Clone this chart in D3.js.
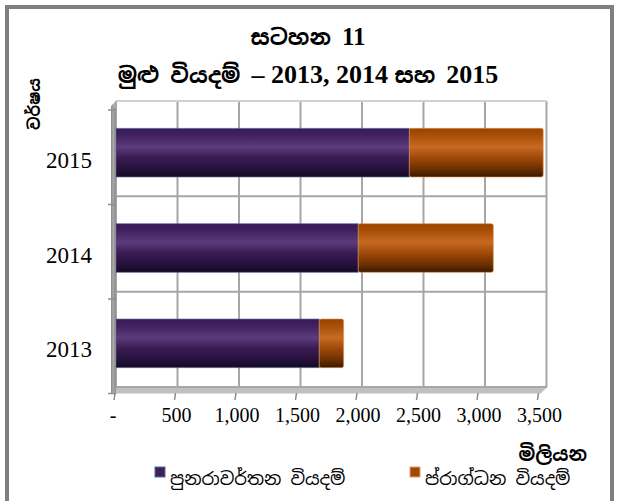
<!DOCTYPE html>
<html>
<head>
<meta charset="utf-8">
<script src="https://cdn.jsdelivr.net/npm/d3@7"></script>
<style>
  body { margin: 0; background: #fff; }
  svg { display: block; }
</style>
</head>
<body>
<div id="chart"></div>
<script>
// data (Rs. million)
const years = ['2015', '2014', '2013'];
const recurrent = [2410, 1990, 1670];   // පුනරාවර්තන වියදම්
const capital = [1100, 1110, 200];      // ප්රාග්ධන වියදම්
const xTicks = [0, 500, 1000, 1500, 2000, 2500, 3000, 3500];
const xTickLabels = ['-', '500', '1,000', '1,500', '2,000', '2,500', '3,000', '3,500'];
const seriesNames = ['පුනරාවර්තන වියදම්', 'ප්රාග්ධන වියදම්'];

const width = 617, height = 501;
const numFont = "'Liberation Serif', 'Times New Roman', Times, serif";
const sinFont = "'Noto Sans Sinhala', 'Noto Serif Sinhala', 'Iskoola Pota', sans-serif";

const svg = d3.select('#chart').append('svg')
    .attr('width', width)
    .attr('height', height);

const defs = svg.append('defs');

function barGradient(id, stops) {
  const g = defs.append('linearGradient')
      .attr('id', id)
      .attr('x1', 0).attr('y1', 0).attr('x2', 0).attr('y2', 1);
  stops.forEach(s => g.append('stop').attr('offset', s[0]).attr('stop-color', s[1]));
}
barGradient('gPurple', [[0, '#3a1a56'], [0.12, '#3f1f5c'], [0.38, '#5d3b7c'], [0.6, '#3a1c55'], [0.85, '#24103a'], [1, '#150a22']]);
barGradient('gOrange', [[0, '#9a4400'], [0.12, '#a64c05'], [0.38, '#c76a22'], [0.6, '#a04a0a'], [0.85, '#6a2e00'], [1, '#3a1800']]);

const wallGrad = defs.append('linearGradient')
    .attr('id', 'gWall').attr('x1', 0).attr('y1', 0).attr('x2', 1).attr('y2', 0);
wallGrad.append('stop').attr('offset', 0).attr('stop-color', '#8c8c8c');
wallGrad.append('stop').attr('offset', 1).attr('stop-color', '#c4c4c4');

// outer frame
svg.append('rect')
    .attr('x', 7).attr('y', 7)
    .attr('width', 605).attr('height', 500)
    .attr('fill', '#fff')
    .attr('stroke', '#7f7f7f')
    .attr('stroke-width', 4);

// scales: back wall, front (axis) plane, and bar plane in the middle
const xBack = d3.scaleLinear().domain([0, 3500]).range([116, 546.5]);
const xFront = d3.scaleLinear().domain([0, 3500]).range([115, 538.5]);
const xBar = d3.scaleLinear().domain([0, 3500]).range([116, 542]);

const yBack = d3.scaleBand().domain(years).range([101, 387]);
const yFront = d3.scaleBand().domain(years).range([110, 393.5]);
const yBar = d3.scaleBand().domain(years).range([105, 391]).paddingInner(0.49).paddingOuter(0.245);

// side wall + floor
svg.append('polygon')
    .attr('points', [[111, 106], [116, 101], [116, 387], [113, 394], [111, 394]].join(' '))
    .attr('fill', 'url(#gWall)');
svg.append('polygon')
    .attr('points', [[116, 387], [xBack(3500) + 1, 387], [xFront(3500) + 2, 393.5], [113, 393.5]].join(' '))
    .attr('fill', '#c0c0c0');

// back wall gridlines
const grid = svg.append('g').attr('stroke', '#a6a6a6').attr('stroke-width', 2);
grid.selectAll('line.v')
  .data(xTicks)
  .join('line')
    .attr('class', 'v')
    .attr('x1', d => xBack(d)).attr('x2', d => xBack(d))
    .attr('y1', 101).attr('y2', 387);
grid.selectAll('line.h')
  .data(years.concat(['end']))
  .join('line')
    .attr('class', 'h')
    .attr('x1', 116).attr('x2', xBack(3500))
    .attr('y1', d => d === 'end' ? 387 : yBack(d))
    .attr('y2', d => d === 'end' ? 387 : yBack(d))
    .attr('stroke', d => d === years[0] ? '#d0d0d0' : '#a6a6a6');

// bars
const bars = svg.append('g');
years.forEach((yr, i) => {
  const y = yBar(yr), h = yBar.bandwidth();
  bars.append('rect')
      .attr('x', xBar(0)).attr('y', y)
      .attr('width', xBar(recurrent[i]) - xBar(0)).attr('height', h)
      .attr('fill', 'url(#gPurple)')
      .attr('stroke', '#4f6d9c').attr('stroke-opacity', 0.6).attr('stroke-width', 1);
  bars.append('rect')
      .attr('x', xBar(recurrent[i])).attr('y', y)
      .attr('width', xBar(recurrent[i] + capital[i]) - xBar(recurrent[i])).attr('height', h)
      .attr('rx', 2)
      .attr('fill', 'url(#gOrange)')
      .attr('stroke', '#e0904a').attr('stroke-opacity', 0.6).attr('stroke-width', 1);
});

// front axes
const axisG = svg.append('g').attr('stroke', '#8c8c8c').attr('stroke-width', 1.5);
axisG.append('line').attr('x1', 115).attr('x2', 115).attr('y1', 108).attr('y2', 395);
axisG.selectAll('line.yt')
  .data(years.concat(['end']))
  .join('line')
    .attr('class', 'yt')
    .attr('x1', 108).attr('x2', 115)
    .attr('y1', d => d === 'end' ? yFront.range()[1] : yFront(d))
    .attr('y2', d => d === 'end' ? yFront.range()[1] : yFront(d));
axisG.selectAll('line.xt')
  .data(xTicks)
  .join('line')
    .attr('class', 'xt')
    .attr('x1', d => xFront(d)).attr('x2', d => xFront(d) - 1)
    .attr('y1', 393).attr('y2', 400);

// year labels
svg.append('g').selectAll('text')
  .data(years)
  .join('text')
    .style('font-family', numFont)
    .attr('x', 92)
    .attr('y', d => yFront(d) + yFront.bandwidth() / 2 + 11)
    .attr('text-anchor', 'end')
    .attr('font-size', 23)
    .attr('fill', '#000')
    .text(d => d);

// x tick labels
svg.append('g').selectAll('text')
  .data(xTicks)
  .join('text')
    .style('font-family', numFont)
    .attr('x', (d, i) => xFront(d) + (i === 0 ? -2 : 1))
    .attr('y', 422)
    .attr('text-anchor', 'middle')
    .attr('font-size', 20)
    .attr('fill', '#000')
    .text((d, i) => xTickLabels[i]);

// titles
const title = svg.append('text')
    .attr('x', 308).attr('y', 45)
    .attr('text-anchor', 'middle')
    .attr('font-weight', 'bold')
    .attr('font-size', 22);
title.append('tspan').style('font-family', sinFont).text('සටහන  ');
title.append('tspan').style('font-family', numFont).attr('font-size', 25).text('11');

const title2 = svg.append('text')
    .attr('x', 308).attr('y', 83)
    .attr('text-anchor', 'middle')
    .attr('font-weight', 'bold')
    .attr('font-size', 22);
title2.append('tspan').style('font-family', sinFont).text('මුළු වියදම් ');
title2.append('tspan').style('font-family', numFont).attr('font-size', 26).text('– 2013, 2014 ');
title2.append('tspan').style('font-family', sinFont).text('සහ ');
title2.append('tspan').style('font-family', numFont).attr('font-size', 26).text('2015');

// axis titles
svg.append('text')
    .style('font-family', sinFont)
    .attr('transform', 'translate(40,104) rotate(-90)')
    .attr('text-anchor', 'middle')
    .attr('font-weight', 'bold')
    .attr('font-size', 16)
    .text('වර්ෂය');

svg.append('text')
    .style('font-family', sinFont)
    .attr('x', 587).attr('y', 461)
    .attr('text-anchor', 'end')
    .attr('font-weight', 'bold')
    .attr('font-size', 19)
    .text('මිලියන');

// legend
const legend = svg.append('g');
const legendX = [155, 410];
const legendFill = ['#3f1f5c', '#a04a00'];
const legendStroke = ['#4f6d9c', '#e8a070'];
seriesNames.forEach((name, i) => {
  legend.append('rect')
      .attr('x', legendX[i]).attr('y', 467)
      .attr('width', 10).attr('height', 10)
      .attr('fill', legendFill[i])
      .attr('stroke', legendStroke[i]).attr('stroke-width', 1);
  legend.append('text')
      .style('font-family', sinFont)
      .attr('x', legendX[i] + 15).attr('y', 485)
      .attr('font-size', 18)
      .attr('fill', '#000')
      .text(name);
});
</script>
</body>
</html>
